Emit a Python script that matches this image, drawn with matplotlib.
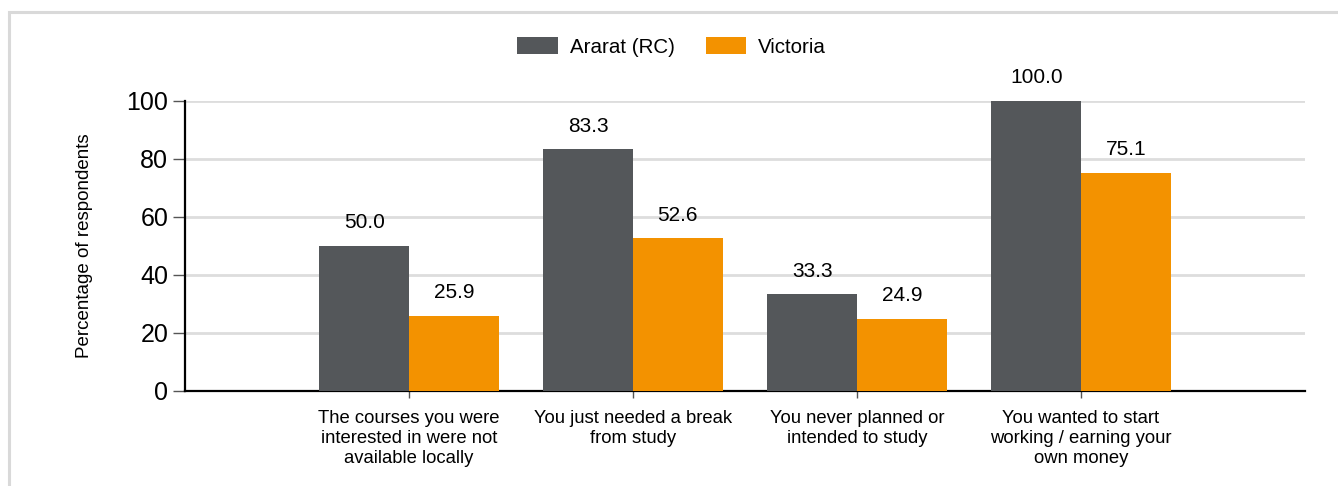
import matplotlib.pyplot as plt
import matplotlib.patches as patches
import numpy as np

plt.rcParams['font.family'] = ['Liberation Sans', 'DejaVu Sans']

categories = ["The courses you were\ninterested in were not\navailable locally",
              "You just needed a break\nfrom study",
              "You never planned or\nintended to study",
              "You wanted to start\nworking / earning your\nown money"]
ararat = [50.0, 83.3, 33.3, 100.0]
victoria = [25.9, 52.6, 24.9, 75.1]
series_names = ["Ararat (RC)", "Victoria"]

grey = '#54575a'
orange = '#f39200'

fig = plt.figure(figsize=(13.38, 4.86), dpi=100)
ax = fig.add_axes([185/1338, 1-391/486, 1120/1338, 290/486])

# light frame round the chart
frame = patches.Rectangle((9/1338, -0.05), 1.2, 1-12/486+0.05, transform=fig.transFigure,
                          fill=False, edgecolor='#d9d9d9', linewidth=2.2, clip_on=False)
fig.patches.append(frame)

x = np.arange(1, len(categories)+1)
w = 0.40
b1 = ax.bar(x - w/2, ararat, w, color=grey, label=series_names[0], zorder=3)
b2 = ax.bar(x + w/2, victoria, w, color=orange, label=series_names[1], zorder=3)

for bars, vals in ((b1, ararat), (b2, victoria)):
    for r, v in zip(bars, vals):
        ax.annotate("%.1f" % v, xy=(r.get_x()+r.get_width()/2, v), xytext=(0, 10),
                    textcoords='offset points', ha='center', va='bottom', fontsize=15)

ax.set_xlim(0, 5)
ax.set_ylim(0, 100)
ax.set_yticks([0, 20, 40, 60, 80, 100])
ax.tick_params(axis='y', labelsize=18, length=9, width=1, color='#555555', pad=3)
ax.set_xticks(x)
ax.set_xticklabels(categories, fontsize=13.3)
ax.tick_params(axis='x', length=5, width=1, color='#555555', pad=9)
ax.yaxis.grid(True, color='#dddddd', linewidth=2, zorder=0)
ax.set_axisbelow(True)
for s in ('top', 'right'):
    ax.spines[s].set_visible(False)
ax.spines['left'].set_linewidth(1.6)
ax.spines['bottom'].set_linewidth(1.6)
ax.set_ylabel("Percentage of respondents", fontsize=13.5, labelpad=24)

fig.legend(handles=[b1, b2], loc='center', bbox_to_anchor=(0.502, 1-47/486), ncol=2,
           frameon=False, fontsize=14.8, handlelength=1.95, handleheight=0.9,
           columnspacing=1.5, handletextpad=0.6)

fig.savefig('out.png', dpi=100)
